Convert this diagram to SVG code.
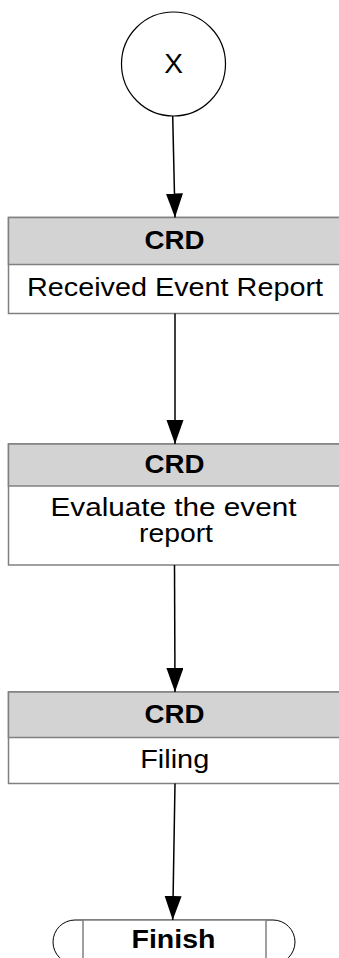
<svg xmlns="http://www.w3.org/2000/svg" width="339" height="958" viewBox="0 0 339 958">
<style>
text { font-family: "Liberation Sans", Arial, sans-serif; fill: #000; text-anchor: middle; }
.hdr { font-weight: bold; font-size: 25px; }
.body { font-size: 25.5px; }
.box { fill: #fff; stroke: #808080; stroke-width: 1.5; }
.head { fill: #d3d3d3; stroke: #808080; stroke-width: 1.5; }
.conn { stroke: #000; stroke-width: 1.5; fill: none; marker-end: url(#arrow); }
</style>
<defs>
<marker id="arrow" markerUnits="userSpaceOnUse" markerWidth="26" markerHeight="18" refX="24" refY="8.5" orient="auto">
<path d="M0,0 L24,8.5 L0,17 Z" fill="#000"/>
</marker>
</defs>
<rect width="339" height="958" fill="#fff"/>

<g id="start">
<circle cx="173.5" cy="64" r="52" fill="#fff" stroke="#000" stroke-width="1.2"/>
<text x="173.5" y="72.5" style="font-size:28px">X</text>
</g>

<g id="task1">
<rect class="box" x="8.5" y="217.5" width="333" height="96"/>
<rect class="head" x="8.5" y="217.5" width="333" height="47"/>
<text class="hdr" x="174.5" y="248.5" textLength="60" lengthAdjust="spacingAndGlyphs">CRD</text>
<text class="body" x="175" y="295.5" textLength="296" lengthAdjust="spacingAndGlyphs">Received Event Report</text>
</g>

<g id="task2">
<rect class="box" x="8.5" y="444" width="333" height="121"/>
<rect class="head" x="8.5" y="444" width="333" height="42"/>
<text class="hdr" x="174.5" y="473.3" textLength="60" lengthAdjust="spacingAndGlyphs">CRD</text>
<text class="body" x="173.5" y="516" textLength="246" lengthAdjust="spacingAndGlyphs">Evaluate the event</text>
<text class="body" x="176" y="542" textLength="74" lengthAdjust="spacingAndGlyphs">report</text>
</g>

<g id="task3">
<rect class="box" x="8.5" y="692" width="333" height="91.5"/>
<rect class="head" x="8.5" y="692" width="333" height="45.5"/>
<text class="hdr" x="174.5" y="722.7" textLength="60" lengthAdjust="spacingAndGlyphs">CRD</text>
<text class="body" x="174.7" y="768" textLength="69" lengthAdjust="spacingAndGlyphs">Filing</text>
</g>

<g id="finish">
<path d="M75,920 H273 A22,22 0 0 1 273,964 H75 A22,22 0 0 1 75,920 Z" fill="#fff" stroke="#000" stroke-width="1"/>
<rect x="83" y="920" width="183" height="44" fill="#fff" stroke="#808080" stroke-width="1.5"/>
<text class="hdr" x="173.5" y="948" textLength="84" lengthAdjust="spacingAndGlyphs">Finish</text>
</g>

<g id="connectors">
<line class="conn" x1="172.7" y1="116" x2="175" y2="217.5"/>
<line class="conn" x1="175" y1="313.5" x2="175" y2="444"/>
<line class="conn" x1="174.5" y1="565" x2="175" y2="692"/>
<line class="conn" x1="175" y1="783.5" x2="172.7" y2="920"/>
</g>
</svg>
